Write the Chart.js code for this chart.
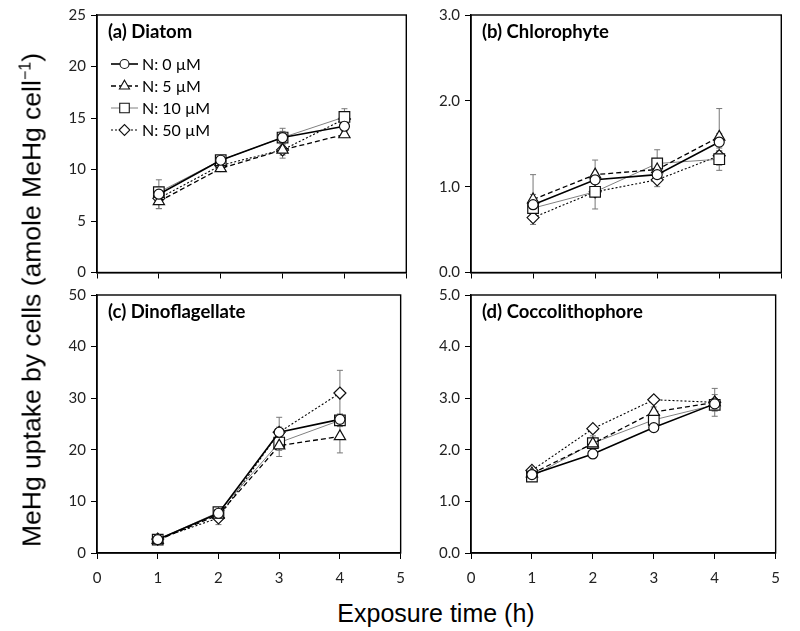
<!DOCTYPE html>
<html>
<head>
<meta charset="utf-8">
<script src="https://cdn.jsdelivr.net/npm/chart.js@4.4.1/dist/chart.umd.min.js"></script>
<style>
  body { margin: 0; background: #fff; }
  #fig { position: relative; width: 800px; height: 631px; overflow: hidden; }
  .panel { position: absolute; }
  #ytitle {
    position: absolute; left: 32px; top: 300px;
    transform: translate(-50%, -50%) rotate(-90deg);
    white-space: nowrap; font: 26.5px "Liberation Sans", Arial, sans-serif; color: #000;
  }
  #ytitle sup { font-size: 16px; }
  #xtitle {
    position: absolute; left: 436px; top: 613px;
    transform: translate(-50%, -50%);
    white-space: nowrap; font: 25px "Liberation Sans", Arial, sans-serif; color: #000;
  }
</style>
</head>
<body>
<div id="fig">
  <div class="panel" style="left:40px; top:0px; width:375px; height:290px;"><canvas id="chartA"></canvas></div>
  <div class="panel" style="left:410px; top:0px; width:380px; height:290px;"><canvas id="chartB"></canvas></div>
  <div class="panel" style="left:40px; top:280px; width:375px; height:313px;"><canvas id="chartC"></canvas></div>
  <div class="panel" style="left:410px; top:280px; width:380px; height:313px;"><canvas id="chartD"></canvas></div>
  <div id="ytitle">MeHg uptake by cells (amole MeHg cell<sup>−1</sup>)</div>
  <div id="xtitle">Exposure time (h)</div>
</div>
<script>
const times = [1, 2, 3, 4];
const seriesLabels = ['N: 0 \u00b5M', 'N: 5 \u00b5M', 'N: 10 \u00b5M', 'N: 50 \u00b5M'];

// (a) Diatom
const diatom0 = [7.6, 10.9, 13.1, 14.2];
const diatom5 = [6.9, 10.1, 11.9, 13.4];
const diatom10 = [7.8, 10.9, 13.1, 15.1];
const diatom50 = [7.2, 10.4, 11.9, 14.9];
const diatomErr0 = [1.4, 0.3, 0.6, 0.5];
const diatomErr5 = [0.7, 0.3, 0.8, 0.3];
const diatomErr10 = [0.5, 0.3, 0.9, 0.8];
const diatomErr50 = [0.4, 0.3, 0.5, 0.6];

// (b) Chlorophyte
const chloro0 = [0.79, 1.08, 1.14, 1.52];
const chloro5 = [0.85, 1.14, 1.20, 1.58];
const chloro10 = [0.75, 0.94, 1.27, 1.32];
const chloro50 = [0.64, 0.94, 1.08, 1.36];
const chloroErr0 = [0.12, 0.08, 0.06, 0.10];
const chloroErr5 = [0.29, 0.17, 0.10, 0.33];
const chloroErr10 = [0.10, 0.05, 0.16, 0.13];
const chloroErr50 = [0.04, 0.20, 0.08, 0.05];

// (c) Dinoflagellate
const dino0 = [2.6, 7.7, 23.4, 25.9];
const dino5 = [2.5, 7.4, 20.8, 22.6];
const dino10 = [2.6, 7.9, 21.4, 25.7];
const dino50 = [2.7, 6.8, 23.4, 31.0];
const dinoErr0 = [0.3, 0.5, 2.9, 1.0];
const dinoErr5 = [0.3, 0.5, 2.1, 3.2];
const dinoErr10 = [0.2, 0.4, 1.5, 1.2];
const dinoErr50 = [0.3, 1.3, 1.0, 4.4];

// (d) Coccolithophore
const cocco0 = [1.52, 1.92, 2.43, 2.89];
const cocco5 = [1.54, 2.12, 2.73, 2.92];
const cocco10 = [1.48, 2.13, 2.58, 2.87];
const cocco50 = [1.60, 2.41, 2.97, 2.92];
const coccoErr0 = [0.04, 0.05, 0.05, 0.10];
const coccoErr5 = [0.05, 0.08, 0.10, 0.15];
const coccoErr10 = [0.06, 0.14, 0.08, 0.12];
const coccoErr50 = [0.04, 0.05, 0.06, 0.27];

const xTicks = [0, 1, 2, 3, 4, 5];

const styles = [
  { pointStyle: 'circle', radius: 5, color: '#000', width: 1.6, dash: [] },
  { pointStyle: 'triangle', radius: 6.5, color: '#000', width: 1.3, dash: [5, 3] },
  { pointStyle: 'rect', radius: 7.5, color: '#808080', width: 1, dash: [] },
  { pointStyle: 'rectRot', radius: 6, color: '#000', width: 1.1, dash: [2, 2] }
];

const tickFont = { family: 'Lato', size: 15 };

function makeDatasets(values, errors) {
  return values.map((vals, i) => ({
    label: seriesLabels[i],
    data: vals.map((v, j) => ({ x: times[j], y: v })),
    errors: errors[i],
    borderColor: styles[i].color,
    borderWidth: styles[i].width,
    borderDash: styles[i].dash,
    pointStyle: styles[i].pointStyle,
    pointRadius: styles[i].radius,
    pointBackgroundColor: '#fff',
    pointBorderColor: '#111',
    pointBorderWidth: 1.2,
    fill: false,
    tension: 0
  }));
}

const errorBars = {
  id: 'errorBars',
  beforeDatasetsDraw(chart) {
    const ctx = chart.ctx;
    const yScale = chart.scales.y;
    ctx.save();
    ctx.strokeStyle = '#777';
    ctx.lineWidth = 1;
    chart.data.datasets.forEach((ds, i) => {
      chart.getDatasetMeta(i).data.forEach((pt, j) => {
        const v = ds.data[j].y, e = ds.errors[j];
        const top = yScale.getPixelForValue(v + e);
        const bot = yScale.getPixelForValue(v - e);
        ctx.beginPath();
        ctx.moveTo(pt.x, top); ctx.lineTo(pt.x, bot);
        ctx.moveTo(pt.x - 3, top); ctx.lineTo(pt.x + 3, top);
        ctx.moveTo(pt.x - 3, bot); ctx.lineTo(pt.x + 3, bot);
        ctx.stroke();
      });
    });
    ctx.restore();
  }
};

// box around plot, panel title, and the legend in panel (a)
const frame = {
  id: 'frame',
  afterDraw(chart, args, opts) {
    const ctx = chart.ctx;
    const a = chart.chartArea;
    ctx.save();
    ctx.strokeStyle = '#000';
    ctx.lineWidth = 1.4;
    ctx.strokeRect(a.left, a.top, a.right - a.left, a.bottom - a.top);

    ctx.fillStyle = '#000';
    ctx.font = 'bold 18.5px Lato';
    ctx.textBaseline = 'middle';
    ctx.fillText(opts.title, a.left + 11, a.top + 17);

    if (opts.legend) {
      ctx.font = '16px Lato';
      chart.data.datasets.forEach((ds, i) => {
        const y = a.top + 49 + i * 22;
        const x0 = a.left + 14, x1 = a.left + 41;
        ctx.strokeStyle = styles[i].color;
        ctx.lineWidth = styles[i].width;
        ctx.setLineDash(styles[i].dash);
        ctx.beginPath();
        ctx.moveTo(x0, y); ctx.lineTo(x1, y);
        ctx.stroke();
        ctx.setLineDash([]);
        ctx.fillStyle = '#fff';
        ctx.strokeStyle = '#111';
        ctx.lineWidth = 1.1;
        Chart.helpers.drawPoint(ctx, {
          pointStyle: styles[i].pointStyle,
          radius: styles[i].radius * 0.9,
          rotation: 0,
          borderWidth: 1.1
        }, (x0 + x1) / 2, y);
        ctx.fillStyle = '#000';
        ctx.fillText(ds.label, x1 + 4, y + 1);
      });
    }
    ctx.restore();
  }
};

function makeChart(id, title, values, errors, yMax, yStep, decimals, showX, legend, yWidth) {
  return new Chart(document.getElementById(id), {
    type: 'line',
    data: { datasets: makeDatasets(values, errors) },
    plugins: [errorBars, frame],
    options: {
      responsive: true,
      maintainAspectRatio: false,
      animation: false,
      layout: { padding: { top: 15, right: 8, left: 0, bottom: 0 } },
      plugins: {
        legend: { display: false },
        tooltip: { enabled: false },
        frame: { title: title, legend: legend }
      },
      scales: {
        x: {
          type: 'linear',
          min: 0, max: 5,
          afterBuildTicks: s => { s.ticks = xTicks.map(v => ({ value: v })); },
          grid: { drawOnChartArea: false, drawTicks: true, tickLength: 6, color: '#000', lineWidth: 1 },
          border: { color: '#000', width: 1.4 },
          ticks: { display: showX, font: tickFont, color: '#222', padding: 10, maxRotation: 0 },
          afterFit: s => { s.height = showX ? 40 : 17.5; }
        },
        y: {
          min: 0, max: yMax,
          ticks: {
            stepSize: yStep, font: tickFont, color: '#222', padding: 5,
            callback: v => v.toFixed(decimals)
          },
          grid: { drawOnChartArea: false, drawTicks: true, tickLength: 6, color: '#000', lineWidth: 1 },
          border: { color: '#000', width: 1.4 },
          afterFit: s => { s.width = yWidth; }
        }
      }
    }
  });
}

makeChart('chartA', '(a) Diatom',
  [diatom0, diatom5, diatom10, diatom50],
  [diatomErr0, diatomErr5, diatomErr10, diatomErr50],
  25, 5, 0, false, true, 57);

makeChart('chartB', '(b) Chlorophyte',
  [chloro0, chloro5, chloro10, chloro50],
  [chloroErr0, chloroErr5, chloroErr10, chloroErr50],
  3, 1, 1, false, false, 61);

makeChart('chartC', '(c) Dinoflagellate',
  [dino0, dino5, dino10, dino50],
  [dinoErr0, dinoErr5, dinoErr10, dinoErr50],
  50, 10, 0, true, false, 57);

makeChart('chartD', '(d) Coccolithophore',
  [cocco0, cocco5, cocco10, cocco50],
  [coccoErr0, coccoErr5, coccoErr10, coccoErr50],
  5, 1, 1, true, false, 61);
</script>
</body>
</html>
